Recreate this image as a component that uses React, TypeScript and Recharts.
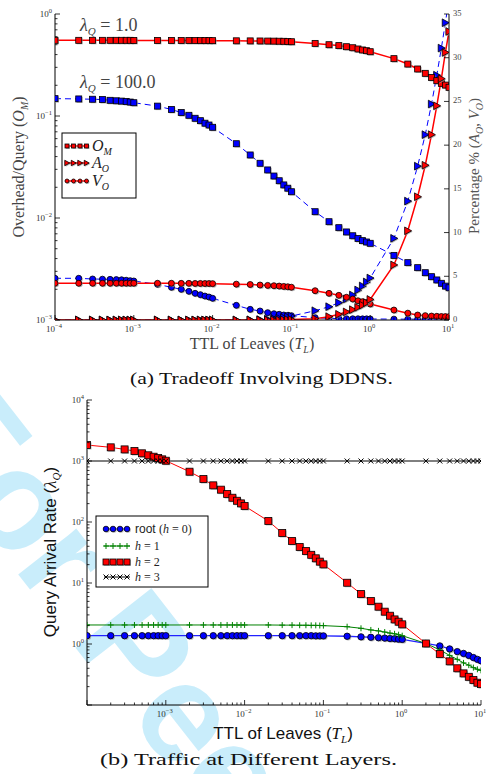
import React from 'react';
import { ComposedChart, Line, XAxis, YAxis } from 'recharts';

// TTL of leaves (x values shared by both panels)
const ttl = [
  0.0001, 0.0002, 0.0003, 0.0004, 0.0005, 0.0006, 0.0007, 0.0008, 0.0009,
  0.001, 0.002, 0.003, 0.004, 0.005, 0.006, 0.007, 0.008, 0.009,
  0.01, 0.02, 0.03, 0.04, 0.05, 0.06, 0.07, 0.08, 0.09,
  0.1, 0.2, 0.3, 0.4, 0.5, 0.6, 0.7, 0.8, 0.9,
  1, 2, 3, 4, 5, 6, 7, 8, 9,
  10,
];

// (a) overhead per query, lambda_Q = 1.0 and 100.0 (left log axis)
const omLow = [
  0.552, 0.552, 0.552, 0.552, 0.552, 0.552, 0.552, 0.552, 0.552, 0.551,
  0.551, 0.551, 0.55, 0.55, 0.55, 0.549, 0.549, 0.549, 0.548,
  0.546, 0.545, 0.544, 0.543, 0.542, 0.541, 0.54, 0.538, 0.535,
  0.515, 0.5, 0.49, 0.478, 0.467, 0.454, 0.444, 0.437, 0.427,
  0.365, 0.323, 0.289, 0.262, 0.239, 0.222, 0.209, 0.201, 0.191,
];
const omHigh = [
  0.148, 0.147, 0.146, 0.145, 0.1425, 0.141, 0.14, 0.139, 0.137, 0.135,
  0.125, 0.116, 0.108, 0.1016, 0.095, 0.09, 0.085, 0.0816, 0.0775,
  0.0535, 0.0415, 0.0344, 0.0296, 0.0258, 0.0232, 0.0211, 0.0196, 0.0181,
  0.01153, 0.0092, 0.00804, 0.0073, 0.0067, 0.0063, 0.006, 0.00582, 0.00565,
  0.0043, 0.00365, 0.00326, 0.00291, 0.00266, 0.00247, 0.00229, 0.00215, 0.00207,
];
// (a) percentages (right axis)
const aoLow = [
  0, 0, 0, 0, 0, 0, 0, 0, 0, 0,
  0, 0, 0, 0, 0, 0, 0, 0, 0,
  0, 0, 0, 0, 0, 0.01, 0.02, 0.03, 0.05,
  0.15, 0.38, 0.65, 0.92, 1.18, 1.45, 1.7, 1.98, 2.35,
  6.3, 10.2, 14.1, 17.7, 21.2, 24.5, 27.6, 30.6, 33.0,
];
const aoHigh = [
  0, 0, 0, 0, 0, 0, 0, 0, 0, 0,
  0, 0, 0, 0, 0, 0, 0, 0, 0,
  0, 0.02, 0.05, 0.1, 0.15, 0.2, 0.27, 0.35, 0.45,
  1.06, 1.52, 1.98, 2.4, 2.86, 3.43, 3.89, 4.35, 4.8,
  9.34, 13.6, 17.6, 21.2, 24.7, 28.0, 31.1, 34.0, 36.8,
];
const voLow = [
  4.2, 4.2, 4.2, 4.2, 4.2, 4.2, 4.2, 4.2, 4.2, 4.2,
  4.2, 4.2, 4.19, 4.19, 4.18, 4.18, 4.17, 4.17, 4.16,
  4.1, 4.06, 4.0, 3.96, 3.92, 3.88, 3.84, 3.8, 3.75,
  3.35, 3.05, 2.82, 2.6, 2.4, 2.2, 2.1, 2.0, 1.83,
  1.14, 0.78, 0.57, 0.5, 0.45, 0.42, 0.4, 0.39, 0.38,
];
const voHigh = [
  4.77, 4.77, 4.69, 4.67, 4.65, 4.62, 4.6, 4.55, 4.5, 4.46,
  4.08, 3.74, 3.51, 3.28, 3.05, 2.9, 2.74, 2.63, 2.48,
  1.68, 1.22, 1.03, 0.84, 0.72, 0.65, 0.57, 0.53, 0.5,
  0.27, 0.18, 0.16, 0.15, 0.14, 0.14, 0.13, 0.13, 0.12,
  0.1, 0.1, 0.1, 0.1, 0.1, 0.1, 0.1, 0.1, 0.1,
];

// (b) query arrival rate per layer
const rootRate = [
  1.37, 1.37, 1.37, 1.37, 1.37, 1.37, 1.37, 1.37, 1.37, 1.37,
  1.37, 1.37, 1.37, 1.37, 1.37, 1.37, 1.37, 1.37, 1.37,
  1.37, 1.37, 1.37, 1.37, 1.37, 1.37, 1.36, 1.36, 1.36,
  1.34, 1.31, 1.29, 1.27, 1.25, 1.23, 1.22, 1.2, 1.19,
  1.02, 0.93, 0.83, 0.75, 0.7, 0.65, 0.6, 0.56, 0.53,
];
const h1Rate = [
  2.05, 2.05, 2.05, 2.05, 2.05, 2.05, 2.05, 2.05, 2.05, 2.05,
  2.05, 2.05, 2.05, 2.05, 2.05, 2.05, 2.05, 2.05, 2.05,
  2.05, 2.04, 2.04, 2.03, 2.03, 2.02, 2.02, 2.01, 2.0,
  1.92, 1.81, 1.7, 1.64, 1.57, 1.51, 1.47, 1.42, 1.37,
  1.02, 0.8, 0.65, 0.56, 0.49, 0.45, 0.41, 0.385, 0.37,
];
const h2Rate = [
  1828, 1675, 1550, 1458, 1337, 1240, 1176, 1119, 1064, 1011,
  668, 507, 399, 339, 288, 250, 223, 202, 183,
  104, 66, 49, 39, 33.5, 29, 25.4, 22.4, 20.2,
  10.1, 6.6, 5.07, 4.09, 3.39, 2.91, 2.53, 2.32, 2.1,
  1.02, 0.685, 0.52, 0.4, 0.33, 0.29, 0.257, 0.232, 0.22,
];
const h3Rate = [
  1000, 1000, 1000, 1000, 1000, 1000, 1000, 1000, 1000, 1000,
  1000, 1000, 1000, 1000, 1000, 1000, 1000, 1000, 1000,
  1000, 1000, 1000, 1000, 1000, 1000, 1000, 1000, 1000,
  1000, 1000, 1000, 1000, 1000, 1000, 1000, 1000, 1000,
  1000, 1000, 1000, 1000, 1000, 1000, 1000, 1000, 1000,
];

// tick exponents that carry a label
const xExpA = [-4, -3, -2, -1, 0, 1];
const yExpA = [-3, -2, -1, 0];
const pctTicks = [0, 5, 10, 15, 20, 25, 30, 35];
const xExpB = [-3, -2, -1, 0, 1];
const yExpB = [0, 1, 2, 3, 4];

const rowsA = ttl.map((x, i) => ({
  x, omLow: omLow[i], omHigh: omHigh[i], aoLow: aoLow[i], aoHigh: aoHigh[i], voLow: voLow[i], voHigh: voHigh[i],
}));
const rowsB = ttl.map((x, i) => ({ x, root: rootRate[i], h1: h1Rate[i], h2: h2Rate[i], h3: h3Rate[i] }));

const logTicks = (lo: number, hi: number) => {
  const out: number[] = [];
  for (let e = lo; e < hi; e++) {
    for (let m = 1; m < 10; m++) out.push(m * Math.pow(10, e));
  }
  out.push(Math.pow(10, hi));
  return out;
};

const SERIF = 'Liberation Serif, DejaVu Serif, serif';
const SANS = 'Liberation Sans, Arial, sans-serif';
const sup = (e: number) => (e < 0 ? '\u2212' + -e : String(e));

function logTick(side: 'bottom' | 'top' | 'left' | 'right', labelled: number[]) {
  return (p: any) => {
    const v = p.payload.value;
    const lg = Math.log10(v);
    const e = Math.round(lg);
    const major = Math.abs(lg - e) < 1e-6;
    const len = major ? 5 : 2.5;
    const show = major && labelled.includes(e);
    const { x, y } = p;
    let ln;
    if (side === 'bottom') ln = <line x1={x} x2={x} y1={y} y2={y - len} stroke="#000" strokeWidth={0.8} />;
    else if (side === 'top') ln = <line x1={x} x2={x} y1={y} y2={y + len} stroke="#000" strokeWidth={0.8} />;
    else if (side === 'left') ln = <line x1={x} x2={x + len} y1={y} y2={y} stroke="#000" strokeWidth={0.8} />;
    else ln = <line x1={x} x2={x - len} y1={y} y2={y} stroke="#000" strokeWidth={0.8} />;
    let label = null;
    if (show && side === 'bottom') {
      label = (
        <text x={x - 1} y={y + 12} textAnchor="middle" fontSize={9} fontFamily={SERIF} fill="#333">
          10<tspan dy={-4} fontSize={6.5}>{sup(e)}</tspan>
        </text>
      );
    } else if (show && side === 'left') {
      label = (
        <text x={x - 3} y={y + 3} textAnchor="end" fontSize={9} fontFamily={SERIF} fill="#333">
          10<tspan dy={-4} fontSize={6.5}>{sup(e)}</tspan>
        </text>
      );
    }
    return <g>{ln}{label}</g>;
  };
}

const pctTick = (p: any) => (
  <g>
    <line x1={p.x} x2={p.x - 5} y1={p.y} y2={p.y} stroke="#000" strokeWidth={0.8} />
    <text x={p.x + 4} y={p.y + 2} fontSize={8.5} fontFamily={SERIF} fill="#444">{p.payload.value}</text>
  </g>
);

// markers
function Square({ cx, cy, fill, s }: any) {
  return (
    <g>
      <rect x={cx - s / 2 + 1} y={cy - s / 2 + 1} width={s} height={s} fill="#999" opacity={0.7} />
      <rect x={cx - s / 2} y={cy - s / 2} width={s} height={s} fill={fill} stroke="#000" strokeWidth={0.8} />
    </g>
  );
}
function Circle({ cx, cy, fill, r }: any) {
  return (
    <g>
      <circle cx={cx + 1} cy={cy + 1} r={r} fill="#999" opacity={0.7} />
      <circle cx={cx} cy={cy} r={r} fill={fill} stroke="#000" strokeWidth={0.8} />
    </g>
  );
}
function Tri({ cx, cy, fill, s }: any) {
  const pts = (dx: number) => `${cx - s * 0.45 + dx},${cy - s * 0.55 + dx} ${cx + s * 0.55 + dx},${cy + dx} ${cx - s * 0.45 + dx},${cy + s * 0.55 + dx}`;
  return (
    <g>
      <polygon points={pts(1)} fill="#999" opacity={0.7} />
      <polygon points={pts(0)} fill={fill} stroke="#000" strokeWidth={0.8} />
    </g>
  );
}
function Plus({ cx, cy }: any) {
  return (
    <g stroke="#008000" strokeWidth={1}>
      <line x1={cx - 3} x2={cx + 3} y1={cy} y2={cy} />
      <line x1={cx} x2={cx} y1={cy - 3} y2={cy + 3} />
    </g>
  );
}
function Cross({ cx, cy }: any) {
  return (
    <g stroke="#000" strokeWidth={1}>
      <line x1={cx - 2.5} x2={cx + 2.5} y1={cy - 2.5} y2={cy + 2.5} />
      <line x1={cx - 2.5} x2={cx + 2.5} y1={cy + 2.5} y2={cy - 2.5} />
    </g>
  );
}

const dot = (Comp: any, extra: any) => (p: any) => {
  if (p.cx == null || p.cy == null || isNaN(p.cy)) return <g key={`${p.dataKey}-${p.index}`} />;
  return <Comp key={`${p.dataKey}-${p.index}`} cx={p.cx} cy={p.cy} {...extra} />;
};

function ChartA() {
  const xt = logTicks(-4, 1);
  const yt = logTicks(-3, 0);
  return (
    <ComposedChart width={486} height={345} data={rowsA} margin={{ top: 14, right: 7, bottom: 5, left: 10 }}>
      <XAxis xAxisId="b" dataKey="x" type="number" scale="log" domain={[0.0001, 10]} allowDataOverflow ticks={xt}
        interval={0} tickSize={0} tickMargin={0} height={20} tick={logTick('bottom', xExpA)} stroke="#000" />
      <XAxis xAxisId="t" dataKey="x" orientation="top" type="number" scale="log" domain={[0.0001, 10]} allowDataOverflow ticks={xt}
        interval={0} tickSize={0} tickMargin={0} height={0} tick={logTick('top', [])} stroke="#000" />
      <YAxis yAxisId="l" type="number" scale="log" domain={[0.001, 1]} allowDataOverflow ticks={yt} interval={0}
        tickSize={0} tickMargin={0} width={45} tick={logTick('left', yExpA)} stroke="#000" />
      <YAxis yAxisId="r" orientation="right" type="number" domain={[0, 35]} allowDataOverflow ticks={pctTicks} interval={0}
        tickSize={0} tickMargin={0} width={30} tick={pctTick} stroke="#000" />
      <Line xAxisId="b" yAxisId="l" dataKey="omHigh" stroke="#0000ff" strokeWidth={1} strokeDasharray="6 4"
        dot={dot(Square, { fill: '#0000ff', s: 6 })} isAnimationActive={false} />
      <Line xAxisId="b" yAxisId="r" dataKey="voHigh" stroke="#0000ff" strokeWidth={1} strokeDasharray="6 4"
        dot={dot(Circle, { fill: '#0000ff', r: 3 })} isAnimationActive={false} />
      <Line xAxisId="b" yAxisId="r" dataKey="aoHigh" stroke="#0000ff" strokeWidth={1} strokeDasharray="6 4"
        dot={dot(Tri, { fill: '#0000ff', s: 7 })} isAnimationActive={false} />
      <Line xAxisId="b" yAxisId="l" dataKey="omLow" stroke="#ff0000" strokeWidth={1.5}
        dot={dot(Square, { fill: '#ff0000', s: 6 })} isAnimationActive={false} />
      <Line xAxisId="b" yAxisId="r" dataKey="voLow" stroke="#ff0000" strokeWidth={1.5}
        dot={dot(Circle, { fill: '#ff0000', r: 3 })} isAnimationActive={false} />
      <Line xAxisId="b" yAxisId="r" dataKey="aoLow" stroke="#ff0000" strokeWidth={1.5}
        dot={dot(Tri, { fill: '#ff0000', s: 7 })} isAnimationActive={false} />
    </ComposedChart>
  );
}

function ChartB() {
  const xt = logTicks(-4, 1);
  const yt = logTicks(-1, 4);
  return (
    <ComposedChart width={486} height={345} data={rowsB} margin={{ top: 20, right: 5, bottom: 0, left: 27 }}>
      <XAxis xAxisId="b" dataKey="x" type="number" scale="log" domain={[0.0001, 10]} allowDataOverflow ticks={xt}
        interval={0} tickSize={0} tickMargin={0} height={20} tick={logTick('bottom', xExpB)} stroke="#000" />
      <XAxis xAxisId="t" dataKey="x" orientation="top" type="number" scale="log" domain={[0.0001, 10]} allowDataOverflow ticks={xt}
        interval={0} tickSize={0} tickMargin={0} height={0} tick={logTick('top', [])} stroke="#000" />
      <YAxis yAxisId="l" type="number" scale="log" domain={[0.1, 10000]} allowDataOverflow ticks={yt} interval={0}
        tickSize={0} tickMargin={0} width={60} tick={logTick('left', yExpB)} stroke="#000" />
      <YAxis yAxisId="r" orientation="right" type="number" scale="log" domain={[0.1, 10000]} allowDataOverflow ticks={yt} interval={0}
        tickSize={0} tickMargin={0} width={0} tick={logTick('right', [])} stroke="#000" />
      <Line xAxisId="b" yAxisId="l" dataKey="root" stroke="#2222ff" strokeWidth={1.3}
        dot={dot(Circle, { fill: '#0000ff', r: 3.2 })} isAnimationActive={false} />
      <Line xAxisId="b" yAxisId="l" dataKey="h1" stroke="#008000" strokeWidth={1}
        dot={dot(Plus, {})} isAnimationActive={false} />
      <Line xAxisId="b" yAxisId="l" dataKey="h2" stroke="#ff0000" strokeWidth={1}
        dot={dot(Square, { fill: '#ff0000', s: 7 })} isAnimationActive={false} />
      <Line xAxisId="b" yAxisId="l" dataKey="h3" stroke="#000" strokeWidth={1}
        dot={dot(Cross, {})} isAnimationActive={false} />
    </ComposedChart>
  );
}

function LegendRow({ y, Comp, extra, color, dash }: any) {
  const xs = [67, 73.5, 80, 86.5];
  return (
    <g>
      <line x1={65} x2={88} y1={y} y2={y} stroke={color} strokeWidth={1.5} strokeDasharray={dash} />
      {xs.map((x) => <Comp key={x} cx={x} cy={y} {...extra} />)}
    </g>
  );
}

function LegendRowB({ y, Comp, extra, color }: any) {
  const xs = [106, 113, 120, 127];
  return (
    <g>
      <line x1={104} x2={130} y1={y} y2={y} stroke={color} strokeWidth={1} />
      {xs.map((x) => <Comp key={x} cx={x} cy={y} {...extra} />)}
    </g>
  );
}

function Overlay() {
  return (
    <svg width={486} height={774} style={{ position: 'absolute', left: 0, top: 0, pointerEvents: 'none' }}>
      {/* panel (a) annotations */}
      <text x={80} y={31} fontSize={18} fontFamily={SERIF} fill="#444">
        <tspan fontStyle="italic">λ</tspan><tspan dy={4} fontSize={11} fontStyle="italic">Q</tspan><tspan dy={-4}> = 1.0</tspan>
      </text>
      <text x={80} y={88} fontSize={18} fontFamily={SERIF} fill="#444">
        <tspan fontStyle="italic">λ</tspan><tspan dy={4} fontSize={11} fontStyle="italic">Q</tspan><tspan dy={-4}> = 100.0</tspan>
      </text>
      <rect x={62} y={133} width={74} height={65} fill="#fff" stroke="#000" strokeWidth={1} />
      <LegendRow y={146} Comp={Square} extra={{ fill: '#ff0000', s: 4 }} color="#ff0000" />
      <LegendRow y={163} Comp={Tri} extra={{ fill: '#ff0000', s: 5 }} color="#ff0000" />
      <LegendRow y={181} Comp={Circle} extra={{ fill: '#ff0000', r: 2 }} color="#ff0000" />
      <text x={92} y={151} fontSize={16} fontFamily={SERIF} fontStyle="italic" fill="#222">
        O<tspan dy={4} fontSize={10}>M</tspan>
      </text>
      <text x={92} y={168} fontSize={16} fontFamily={SERIF} fontStyle="italic" fill="#222">
        A<tspan dy={4} fontSize={10}>O</tspan>
      </text>
      <text x={92} y={186} fontSize={16} fontFamily={SERIF} fontStyle="italic" fill="#222">
        V<tspan dy={4} fontSize={10}>O</tspan>
      </text>
      <text transform="translate(24,167) rotate(-90)" textAnchor="middle" fontSize={16} fontFamily={SERIF} fill="#444">
        Overhead/Query (<tspan fontStyle="italic">O</tspan><tspan dy={4} fontSize={10} fontStyle="italic">M</tspan><tspan dy={-4}>)</tspan>
      </text>
      <text transform="translate(479,166) rotate(-90)" textAnchor="middle" fontSize={15} fontFamily={SERIF} fill="#555">
        Percentage % (<tspan fontStyle="italic">A</tspan><tspan dy={4} fontSize={10} fontStyle="italic">O</tspan><tspan dy={-4}>, </tspan><tspan fontStyle="italic">V</tspan><tspan dy={4} fontSize={10} fontStyle="italic">O</tspan><tspan dy={-4}>)</tspan>
      </text>
      <text x={252} y={349} textAnchor="middle" fontSize={16} fontFamily={SERIF} fill="#444">
        TTL of Leaves (<tspan fontStyle="italic">T</tspan><tspan dy={4} fontSize={10} fontStyle="italic">L</tspan><tspan dy={-4}>)</tspan>
      </text>
      <text x={130} y={384} fontSize={17} fontFamily={SERIF} fill="#111" textLength={263} lengthAdjust="spacingAndGlyphs">
        (a) Tradeoff Involving DDNS.
      </text>

      {/* panel (b) annotations */}
      <rect x={96} y={516} width={112} height={71} fill="#fff" stroke="#000" strokeWidth={1} />
      <LegendRowB y={529} Comp={Circle} extra={{ fill: '#0000ff', r: 2.8 }} color="#0000ff" />
      <LegendRowB y={546} Comp={Plus} extra={{}} color="#008000" />
      <LegendRowB y={562} Comp={Square} extra={{ fill: '#ff0000', s: 6 }} color="#ff0000" />
      <LegendRowB y={577} Comp={Cross} extra={{}} color="#000" />
      <text x={135} y={533} fontSize={12} fontFamily={SANS} fill="#222">
        root <tspan fontFamily={SERIF}>(</tspan><tspan fontFamily={SERIF} fontStyle="italic">h</tspan><tspan fontFamily={SERIF}> = 0)</tspan>
      </text>
      <text x={135} y={550} fontSize={12} fontFamily={SERIF} fill="#222"><tspan fontStyle="italic">h</tspan> = 1</text>
      <text x={135} y={566} fontSize={12} fontFamily={SERIF} fill="#222"><tspan fontStyle="italic">h</tspan> = 2</text>
      <text x={135} y={581} fontSize={12} fontFamily={SERIF} fill="#222"><tspan fontStyle="italic">h</tspan> = 3</text>
      <text transform="translate(56,552) rotate(-90)" textAnchor="middle" fontSize={17} fontFamily={SANS} fill="#111">
        Query Arrival Rate (<tspan fontFamily={SERIF} fontStyle="italic">λ</tspan><tspan dy={4} fontSize={11} fontFamily={SERIF} fontStyle="italic">Q</tspan><tspan dy={-4}>)</tspan>
      </text>
      <text x={283} y={739} textAnchor="middle" fontSize={17} fontFamily={SANS} fill="#111">
        TTL of Leaves (<tspan fontFamily={SERIF} fontStyle="italic">T</tspan><tspan dy={4} fontSize={11} fontFamily={SERIF} fontStyle="italic">L</tspan><tspan dy={-4}>)</tspan>
      </text>
      <text x={100} y={765} fontSize={17} fontFamily={SERIF} fill="#111" textLength={297} lengthAdjust="spacingAndGlyphs">
        (b) Traffic at Different Layers.
      </text>
    </svg>
  );
}

export default function App() {
  return (
    <div style={{ position: 'absolute', left: 0, top: 0, width: 486, height: 774, background: '#fff', overflow: 'hidden' }}>
      <svg width={486} height={774} style={{ position: 'absolute', left: 0, top: 0 }}>
        <text transform="translate(-93,432) rotate(52)" fontSize={140} fontWeight="bold" fontFamily={SANS} fill="#c9edfb">
          For Peer Review
        </text>
      </svg>
      <div style={{ position: 'absolute', left: 0, top: 0 }}>
        <ChartA />
      </div>
      <div style={{ position: 'absolute', left: 0, top: 380 }}>
        <ChartB />
      </div>
      <Overlay />
    </div>
  );
}
